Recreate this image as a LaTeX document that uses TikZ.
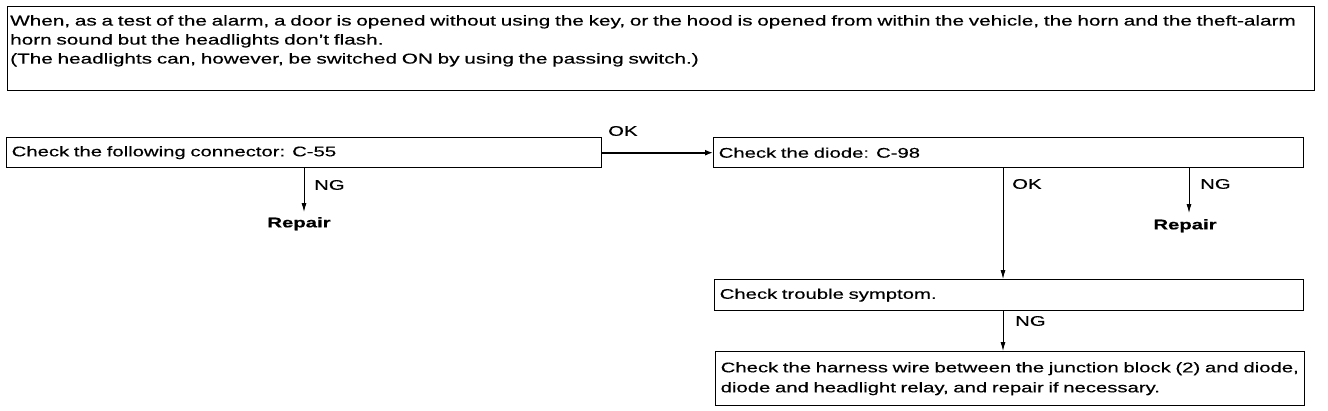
\documentclass[tikz,border=0pt]{standalone}
\usepackage{fontspec}
\setmainfont{Liberation Sans}[FakeStretch=1.45, FakeBold=0.4]
\usetikzlibrary{arrows.meta}
\tikzset{
  box/.style={draw, line width=1.4pt, anchor=north west, inner ysep=0pt, inner xsep=5pt, align=left, font=\fontsize{14}{19}\selectfont},
  plain/.style={anchor=north west, inner sep=0pt, align=left, font=\fontsize{14.3}{19}\selectfont},
  lbl/.style={anchor=west, inner sep=0pt, font=\fontsize{14}{15}\selectfont},
  rep/.style={inner sep=0pt, font=\fontsize{14}{15}\selectfont\bfseries},
  arr/.style={line width=0.8pt, -{Latex[length=9pt,width=5pt]}},
  harr/.style={line width=2.2pt, -{Latex[length=8pt,width=6pt]}},
}
\begin{document}
\begin{tikzpicture}[x=1pt,y=-1pt]
\useasboundingbox (0,0) rectangle (1328,410);
% top box
\node[box, minimum width=1307pt, minimum height=84pt] (top) at (7,6) {};
\node[plain, text width=1300pt] (toptext) at (10,15)
 {\mbox{When, as a test of the alarm, a door is opened without using the key, or the hood is opened from within the vehicle, the horn and the theft-alarm}\\
  horn sound but the headlights don't flash.\\
  (The headlights can, however, be switched ON by using the passing switch.)};
% boxes
\node[box, text width=585pt, minimum height=30pt] (b1) at (6,137) {Check the following connector: C-55};
\node[box, text width=580pt, minimum height=30pt] (b2) at (713,137) {Check the diode: C-98};
\node[box, text width=579pt, minimum height=31pt] (b3) at (714,279) {Check trouble symptom.};
\node[box, font=\fontsize{14}{20}\selectfont, text width=579pt, minimum height=54pt] (b4) at (715,351)
 {\mbox{Check the harness wire between the junction block (2) and diode,}\\ \mbox{diode and headlight relay, and repair if necessary.}};
% connectors
\draw[harr] (b1.east) -- (b2.west);
\node[lbl] (ok1) at (608,131) {OK};

\coordinate (a1) at (304,212);
\draw[arr] (b1.south -| a1) -- (a1);
\node[lbl] (ng1) at (314,185) {NG};
\node[rep, anchor=north] (r1) at (299,217) {Repair};

\coordinate (a2) at (1189,213);
\draw[arr] (b2.south -| a2) -- (a2);
\node[lbl] (ng2) at (1200,184) {NG};
\node[rep, anchor=north] (r2) at (1185,219) {Repair};

\coordinate (c) at (1003,0);
\draw[arr] (b2.south -| c) -- (b3.north -| c);
\node[lbl] (ok2) at (1012,184) {OK};
\draw[arr] (b3.south -| c) -- (b4.north -| c);
\node[lbl] (ng3) at (1015,321) {NG};
\end{tikzpicture}
\end{document}
